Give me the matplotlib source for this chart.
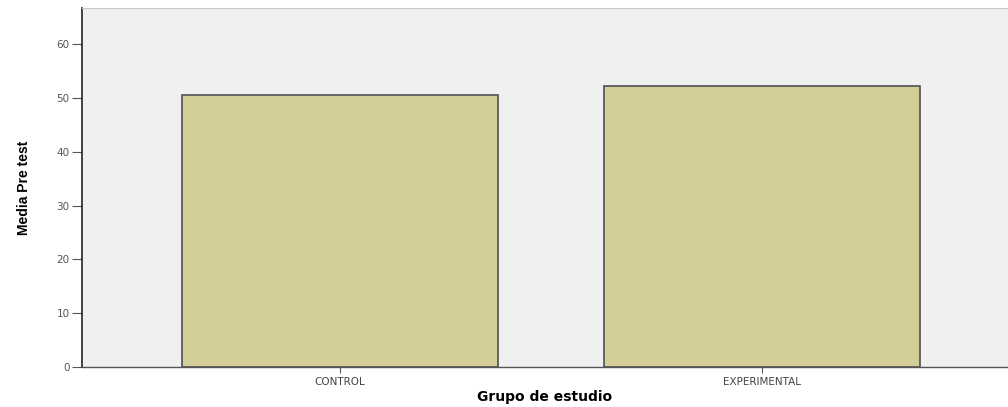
import matplotlib.pyplot as plt

grupos = ['CONTROL', 'EXPERIMENTAL']
medias = [50.6, 52.2]
yticks = [0, 10, 20, 30, 40, 50, 60]

fig = plt.figure(figsize=(10.08, 4.07), dpi=100)
ax = fig.add_axes([0.0813, 0.098, 0.9187, 0.882])
ax.set_facecolor('#f0f0f0')

ax.bar(range(len(grupos)), medias, width=0.75, color='#d3ce98',
       edgecolor='#505050', linewidth=1.2, zorder=2)

ax.set_xlim(-0.611, 1.583)
ax.set_ylim(0, 66.7)
ax.set_xticks(range(len(grupos)))
ax.set_xticklabels(grupos, fontsize=7.5, color='#444444', family='DejaVu Sans')
ax.set_yticks(yticks)
ax.set_yticklabels([str(v) for v in yticks], fontsize=7.5, color='#555555',
                   family='DejaVu Sans')
ax.tick_params(axis='y', length=7, width=0.8, color='#555555', pad=2)
ax.tick_params(axis='x', length=4, width=0.8, color='#555555', pad=3)

for s in ['top', 'right']:
    ax.spines[s].set_color('#c8c8c8')
ax.spines['left'].set_color('#222222')
ax.spines['left'].set_linewidth(1.2)
ax.spines['bottom'].set_color('#555555')
ax.spines['bottom'].set_linewidth(1.0)

ax.set_ylabel('Media Pre test', fontsize=10, fontweight='bold',
              family='Liberation Sans', labelpad=18)
ax.set_xlabel('Grupo de estudio', fontsize=10, fontweight='bold',
              family='DejaVu Sans', labelpad=2)

fig.savefig('out.png', dpi=100)
